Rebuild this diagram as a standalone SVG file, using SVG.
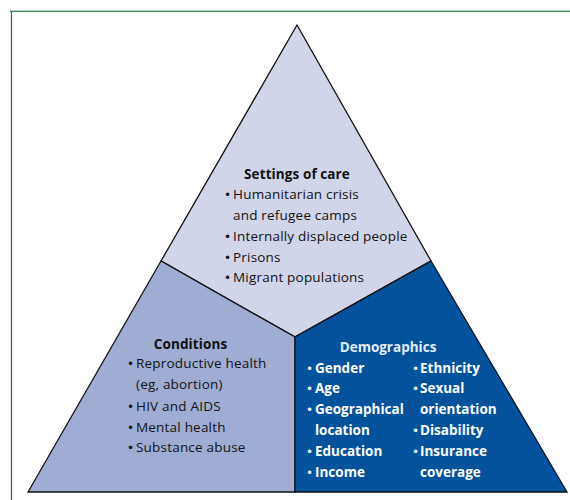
<svg xmlns="http://www.w3.org/2000/svg" width="570" height="500" viewBox="0 0 570 500">
<style>
.t{font-family:"Open Sans","Liberation Sans",sans-serif;font-size:13.5px;letter-spacing:0.2px;fill:#111111}
.b{font-family:"DejaVu Sans",sans-serif;font-size:12px}
.h{font-weight:700;letter-spacing:0.1px}
.w{fill:#ffffff;font-weight:700;letter-spacing:0px}
.wb{font-weight:400}
.edge{stroke:#111;stroke-width:1.3;stroke-linejoin:miter}
</style>
<rect width="570" height="500" fill="#ffffff"/>
<g id="frame">
<line x1="10" y1="10.5" x2="570" y2="10.5" stroke="#b5cfbd" stroke-width="1"/>
<line x1="10" y1="11.5" x2="570" y2="11.5" stroke="#3d8f63" stroke-width="1"/>
<line x1="11.5" y1="11" x2="11.5" y2="500" stroke="#1f6e43" stroke-width="1.2"/>
</g>
<g id="settings">
<polygon class="edge" points="297,25 161,261 295,337 431,261" fill="#d1d5e9"/>
<text class="t h" x="297" y="179" text-anchor="middle">Settings of care</text>
<text class="t b" x="224" y="199">•</text><text class="t" x="233" y="199">Humanitarian crisis</text>
<text class="t" x="233" y="220">and refugee camps</text>
<text class="t b" x="224" y="241">•</text><text class="t" x="233" y="241">Internally displaced people</text>
<text class="t b" x="224" y="262">•</text><text class="t" x="233" y="262">Prisons</text>
<text class="t b" x="224" y="282">•</text><text class="t" x="233" y="282">Migrant populations</text>
</g>
<g id="conditions">
<polygon class="edge" points="161,261 28,492 295,492 295,337" fill="#9fadd5"/>
<text class="t h" x="190.5" y="349" text-anchor="middle">Conditions</text>
<text class="t b" x="127" y="368">•</text><text class="t" x="136" y="368">Reproductive health</text>
<text class="t" x="136" y="389">(eg, abortion)</text>
<text class="t b" x="127" y="411">•</text><text class="t" x="136" y="411">HIV and AIDS</text>
<text class="t b" x="127" y="432">•</text><text class="t" x="136" y="432">Mental health</text>
<text class="t b" x="127" y="452">•</text><text class="t" x="136" y="452">Substance abuse</text>
</g>
<g id="demographics">
<polygon class="edge" points="431,261 567,492 295,492 295,337" fill="#03539c"/>
<text class="t w" x="388" y="352" text-anchor="middle" style="fill:#e6ebf7">Demographics</text>
<text class="t w b wb" x="306" y="373">•</text><text class="t w" x="315" y="373">Gender</text>
<text class="t w b wb" x="306" y="393">•</text><text class="t w" x="315" y="393">Age</text>
<text class="t w b wb" x="306" y="414">•</text><text class="t w" x="315" y="414">Geographical</text>
<text class="t w" x="315" y="435">location</text>
<text class="t w b wb" x="306" y="456">•</text><text class="t w" x="315" y="456">Education</text>
<text class="t w b wb" x="306" y="477">•</text><text class="t w" x="315" y="477">Income</text>
<text class="t w b wb" x="412" y="373">•</text><text class="t w" x="420" y="373">Ethnicity</text>
<text class="t w b wb" x="412" y="393">•</text><text class="t w" x="420" y="393">Sexual</text>
<text class="t w" x="420" y="414">orientation</text>
<text class="t w b wb" x="412" y="435">•</text><text class="t w" x="420" y="435">Disability</text>
<text class="t w b wb" x="412" y="456">•</text><text class="t w" x="420" y="456">Insurance</text>
<text class="t w" x="420" y="477">coverage</text>
</g>
<g id="connectors"></g>
</svg>
